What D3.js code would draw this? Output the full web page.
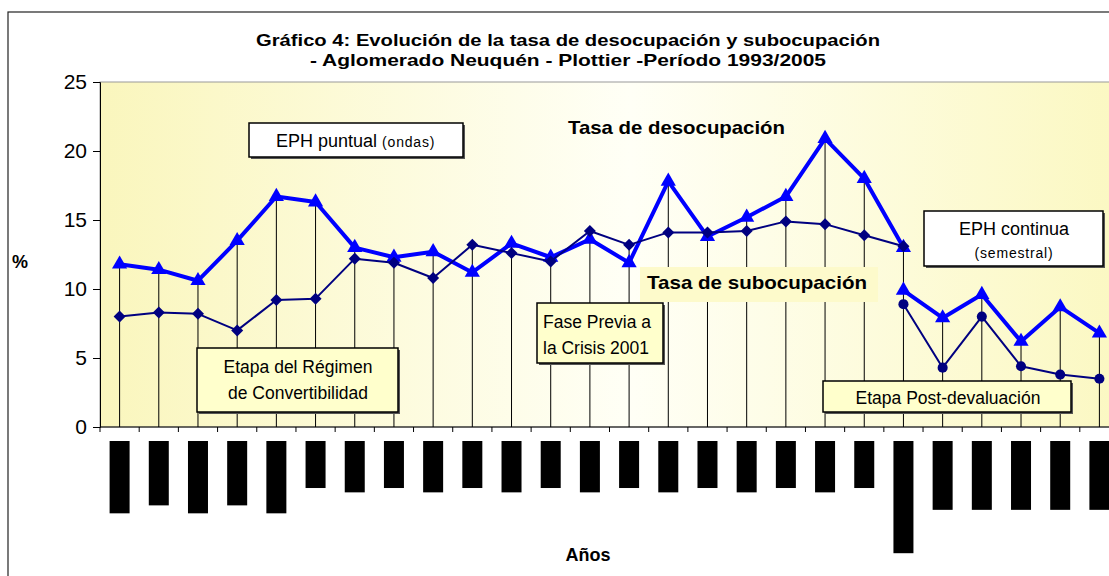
<!DOCTYPE html>
<html>
<head>
<meta charset="utf-8">
<script src="https://cdn.jsdelivr.net/npm/d3@7"></script>
<style>
  body { margin: 0; background: #fff; }
  svg { display: block; font-family: "Liberation Sans", Arial, sans-serif; }
</style>
</head>
<body>
<div id="chart"></div>
<script>
// Categories (x axis labels, hidden behind black blocks in the original)
const categories = [
    "Mayo 1993", "Oct. 1993", "Mayo 1994", "Oct. 1994", "Mayo 1995",
    "Oct-95", "May-96", "Oct-96", "May-97", "Oct-97", "May-98", "Oct-98",
    "May-99", "Oct-99", "May-00", "Oct-00", "May-01", "Oct-01", "May-02", "Oct-02",
    "May-03/1°Sem 03", "2° Sem 03", "1° Sem 04", "2° Sem 04", "1° Sem 05", "2° Sem 05"
];

// Tasa de desocupación
const desocPuntual = [11.8, 11.4, 10.6, 13.5, 16.7, 16.3, 13.0, 12.3, 12.7, 11.2, 13.3,
    12.3, 13.6, 11.9, 17.8, 13.8, 15.2, 16.7, 20.9, 18.0, 13.0];
const desocContinua = [9.9, 7.9, 9.6, 6.2, 8.7, 6.8];

// Tasa de subocupación
const subocPuntual = [8.0, 8.3, 8.2, 7.0, 9.2, 9.3, 12.2, 11.9, 10.8, 13.2, 12.6,
    12.0, 14.2, 13.2, 14.1, 14.1, 14.2, 14.9, 14.7, 13.9, 13.1];
const subocContinua = [8.9, 4.3, 8.0, 4.4, 3.8, 3.5];

const yTicks = [0, 5, 10, 15, 20, 25];

const width = 1109, height = 576;
const plot = { left: 100, top: 82, right: 1119, bottom: 427 };

const svg = d3.select("#chart").append("svg")
    .attr("width", width)
    .attr("height", height);

const x = d3.scaleBand()
    .domain(d3.range(categories.length))
    .range([plot.left, plot.right]);
const y = d3.scaleLinear().domain([0, 25]).range([plot.bottom, plot.top]);
const cx = i => x(i) + x.bandwidth() / 2;

// continua series sit at the end of the axis
const contStart = categories.length - desocContinua.length;
const toPts = (arr, start) => arr.map((v, k) => ({ i: start + k, v: v }));

const series = {
    desocP: toPts(desocPuntual, 0),
    desocC: toPts(desocContinua, contStart),
    subocP: toPts(subocPuntual, 0),
    subocC: toPts(subocContinua, contStart)
};

// Outer frame
svg.append("rect")
    .attr("x", 8).attr("y", 12)
    .attr("width", 1200).attr("height", 700)
    .attr("fill", "#fff")
    .attr("stroke", "#222")
    .attr("stroke-width", 1.2);

// Plot background gradient
const defs = svg.append("defs");
const grad = defs.append("linearGradient").attr("id", "bg")
    .attr("x1", 0).attr("x2", 1).attr("y1", 0).attr("y2", 0);
grad.append("stop").attr("offset", "0%").attr("stop-color", "#faf6bd");
grad.append("stop").attr("offset", "52%").attr("stop-color", "#fffff6");
grad.append("stop").attr("offset", "100%").attr("stop-color", "#fbf8c2");

svg.append("rect")
    .attr("x", plot.left).attr("y", plot.top)
    .attr("width", plot.right - plot.left)
    .attr("height", plot.bottom - plot.top)
    .attr("fill", "url(#bg)")
    .attr("stroke", "#9a9a9a")
    .attr("stroke-width", 1);

// Title
const title = svg.append("g")
    .attr("font-weight", "bold")
    .attr("font-size", 17)
    .attr("text-anchor", "middle");
title.append("text").attr("x", 568).attr("y", 46)
    .attr("textLength", 624).attr("lengthAdjust", "spacingAndGlyphs")
    .text("Gráfico 4: Evolución de la tasa de desocupación y subocupación");
title.append("text").attr("x", 568).attr("y", 66)
    .attr("textLength", 516).attr("lengthAdjust", "spacingAndGlyphs")
    .text("- Aglomerado Neuquén - Plottier -Período 1993/2005");

// Drop lines from the highest point of each category to 0
const maxByCat = d3.range(categories.length).map(i => {
    const vals = Object.values(series).flat().filter(d => d.i === i).map(d => d.v);
    return { i: i, v: d3.max(vals) };
});
svg.append("g").selectAll("line")
    .data(maxByCat)
    .join("line")
    .attr("x1", d => cx(d.i)).attr("x2", d => cx(d.i))
    .attr("y1", d => y(d.v)).attr("y2", y(0))
    .attr("stroke", "#000")
    .attr("stroke-width", 1);

// Y axis
const yAxis = svg.append("g")
    .attr("transform", `translate(${plot.left},0)`)
    .call(d3.axisLeft(y).tickValues(yTicks).tickSize(7).tickPadding(6));
yAxis.select(".domain").attr("stroke", "#000");
yAxis.selectAll(".tick line").attr("stroke", "#000");
yAxis.selectAll(".tick text")
    .attr("font-size", 21)
    .attr("font-family", "Liberation Sans, Arial, sans-serif")
    .attr("fill", "#000");

// X axis (ticks on band boundaries)
const xAxisG = svg.append("g");
xAxisG.append("line")
    .attr("x1", plot.left).attr("x2", plot.right)
    .attr("y1", y(0)).attr("y2", y(0))
    .attr("stroke", "#000");
xAxisG.selectAll("line.tk")
    .data(d3.range(categories.length + 1))
    .join("line")
    .attr("class", "tk")
    .attr("x1", i => plot.left + i * x.step()).attr("x2", i => plot.left + i * x.step())
    .attr("y1", y(0)).attr("y2", y(0) + 5)
    .attr("stroke", "#000");

// Category labels: rotated text on black blocks (as rendered in the original)
const labelTop = y(0) + 14;
const lab = svg.append("g").selectAll("g")
    .data(categories)
    .join("g")
    .attr("transform", (d, i) => `translate(${cx(i)},${labelTop})`);
lab.append("rect").attr("class", "blk");
lab.append("text")
    .attr("transform", "rotate(-90)")
    .attr("x", -5)
    .attr("dy", "0.35em")
    .attr("text-anchor", "end")
    .attr("font-size", 13)
    .attr("fill", "#000")
    .text(d => d);
lab.each(function () {
    const g = d3.select(this);
    const len = g.select("text").node().getComputedTextLength();
    g.select("rect")
        .attr("x", -10).attr("y", 0)
        .attr("width", 20).attr("height", len + 8)
        .attr("fill", "#000");
});

// Lines and markers
const line = d3.line().x(d => cx(d.i)).y(d => y(d.v));

function drawSeries(data, color, lw, symbol, size) {
    svg.append("path")
        .datum(data)
        .attr("d", line)
        .attr("fill", "none")
        .attr("stroke", color)
        .attr("stroke-width", lw)
        .attr("stroke-linejoin", "round");
    svg.append("g").selectAll("path")
        .data(data)
        .join("path")
        .attr("transform", d => `translate(${cx(d.i)},${y(d.v)})` + (symbol === d3.symbolSquare ? " rotate(45)" : ""))
        .attr("d", d3.symbol().type(symbol).size(size))
        .attr("fill", color);
}

drawSeries(series.desocP, "#0000ff", 4, d3.symbolTriangle, 100);
drawSeries(series.desocC, "#0000ff", 4, d3.symbolTriangle, 100);
drawSeries(series.subocP, "#000080", 2, d3.symbolSquare, 72);
drawSeries(series.subocC, "#000080", 2, d3.symbolCircle, 80);

// Annotation boxes
function box(x0, y0, w, h, fill) {
    svg.append("rect")
        .attr("x", x0 + 2).attr("y", y0 + 2)
        .attr("width", w).attr("height", h)
        .attr("fill", "#555");
    svg.append("rect")
        .attr("x", x0).attr("y", y0)
        .attr("width", w).attr("height", h)
        .attr("fill", fill)
        .attr("stroke", "#000")
        .attr("stroke-width", 1.5);
}

// EPH puntual (ondas)
box(249, 123, 214, 34, "#fff");
const eph1 = svg.append("text").attr("x", 276).attr("y", 147).attr("font-size", 18);
eph1.append("tspan").text("EPH puntual ");
eph1.append("tspan").attr("font-size", 14).attr("letter-spacing", 0.8).text("(ondas)");

// EPH continua (semestral)
box(924, 211, 179, 55, "#fff");
svg.append("text").attr("x", 1014).attr("y", 235).attr("text-anchor", "middle")
    .attr("font-size", 18).text("EPH continua");
svg.append("text").attr("x", 1014).attr("y", 258).attr("text-anchor", "middle")
    .attr("font-size", 14).attr("letter-spacing", 0.8).text("(semestral)");

// Etapa del Régimen de Convertibilidad
box(197, 348, 201, 64, "#ffffcc");
svg.append("text").attr("x", 298).attr("y", 373).attr("text-anchor", "middle")
    .attr("font-size", 17.5).text("Etapa del Régimen");
svg.append("text").attr("x", 298).attr("y", 399).attr("text-anchor", "middle")
    .attr("font-size", 17.5).text("de Convertibilidad");

// Fase Previa a la Crisis 2001
box(537, 303, 126, 60, "#ffffcc");
svg.append("text").attr("x", 543).attr("y", 328)
    .attr("font-size", 17.5).text("Fase Previa a");
svg.append("text").attr("x", 543).attr("y", 354)
    .attr("font-size", 17.5).text("la Crisis 2001");

// Etapa Post-devaluación
box(823, 381, 248, 31, "#ffffcc");
svg.append("text").attr("x", 948).attr("y", 404).attr("text-anchor", "middle")
    .attr("font-size", 17.5).text("Etapa Post-devaluación");

// Series captions
svg.append("text").attr("x", 568).attr("y", 134)
    .attr("font-size", 18.5).attr("font-weight", "bold")
    .attr("textLength", 217).attr("lengthAdjust", "spacingAndGlyphs")
    .text("Tasa de desocupación");

svg.append("rect").attr("x", 640).attr("y", 267)
    .attr("width", 238).attr("height", 35)
    .attr("fill", "#fdfacb");
svg.append("text").attr("x", 647).attr("y", 289)
    .attr("font-size", 18.5).attr("font-weight", "bold")
    .attr("textLength", 220).attr("lengthAdjust", "spacingAndGlyphs")
    .text("Tasa de subocupación");

// Axis titles
svg.append("text").attr("x", 12).attr("y", 268)
    .attr("font-size", 18).attr("font-weight", "bold").text("%");
svg.append("text").attr("x", 588).attr("y", 561).attr("text-anchor", "middle")
    .attr("font-size", 18).attr("font-weight", "bold").text("Años");
</script>
</body>
</html>
